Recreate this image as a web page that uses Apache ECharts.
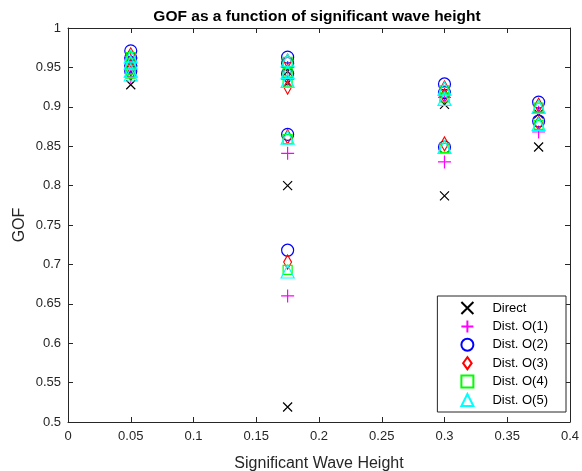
<!DOCTYPE html>
<html>
<head>
<meta charset="utf-8">
<script src="https://cdn.jsdelivr.net/npm/echarts@6/dist/echarts.min.js"></script>
<style>
  html, body { margin: 0; padding: 0; background: #fff; }
  #chart { width: 582px; height: 471px; }
</style>
</head>
<body>
<div id="chart"></div>
<script>
// Significant wave heights where the model was evaluated
const hsLevels = [0.05, 0.175, 0.3, 0.375];

// GOF values per method, one inner list per wave height
const direct = [[0.928, 0.945, 0.955], [0.930, 0.945, 0.800, 0.519], [0.903, 0.787], [0.891, 0.849]];
const dist1 = [[0.938, 0.952, 0.962], [0.935, 0.950, 0.841, 0.660], [0.912, 0.830], [0.893, 0.868]];
const dist2 = [[0.971, 0.962, 0.952, 0.945], [0.963, 0.955, 0.942, 0.865, 0.718], [0.929, 0.918, 0.849], [0.906, 0.882]];
const dist3 = [[0.966, 0.957, 0.948, 0.942], [0.958, 0.945, 0.925, 0.862, 0.703], [0.924, 0.914, 0.853], [0.902, 0.879]];
const dist4 = [[0.963, 0.955, 0.947, 0.942], [0.957, 0.943, 0.932, 0.859, 0.693], [0.921, 0.912, 0.848], [0.899, 0.877]];
const dist5 = [[0.964, 0.956, 0.946, 0.941], [0.959, 0.944, 0.933, 0.861, 0.691], [0.923, 0.910, 0.849], [0.900, 0.878]];

const seriesNames = ['Direct', 'Dist. O(1)', 'Dist. O(2)', 'Dist. O(3)', 'Dist. O(4)', 'Dist. O(5)'];

function toPoints(groups) {
  const pts = [];
  groups.forEach((vals, i) => vals.forEach(v => pts.push([hsLevels[i], v])));
  return pts;
}

const markers = [
  { data: direct, color: '#000000', symbol: 'path://M0,0L10,10M10,0L0,10', size: 9 },
  { data: dist1, color: '#ff00ff', symbol: 'path://M5,0L5,10M0,5L10,5', size: 13 },
  { data: dist2, color: '#0000ff', symbol: 'circle', size: 12 },
  { data: dist3, color: '#ff0000', symbol: 'path://M5,0L10,7L5,14L0,7Z', size: [11, 14] },
  { data: dist4, color: '#00ff00', symbol: 'rect', size: 9 },
  { data: dist5, color: '#00ffff', symbol: 'triangle', size: 13 }
];

const textColor = '#262626';
const font = 'Liberation Sans, Arial, sans-serif';

const axisCommon = {
  min: 0, max: 0.4, interval: 0.05,
  axisLine: { show: true, onZero: false, lineStyle: { color: textColor, width: 1 } },
  axisTick: { show: true, inside: true, length: 5, lineStyle: { color: textColor } },
  splitLine: { show: false }
};

const chart = echarts.init(document.getElementById('chart'));
chart.setOption({
  animation: false,
  backgroundColor: '#ffffff',
  title: {
    text: 'GOF as a function of significant wave height',
    left: 312, top: 4, textAlign: 'center',
    textStyle: { fontFamily: font, fontSize: 15.5, fontWeight: 'bold', color: '#000' }
  },
  grid: { left: 68, right: 12, top: 28, bottom: 49, outerBoundsMode: 'none', containLabel: false },
  legend: {
    orient: 'vertical',
    right: 16, bottom: 59,
    itemWidth: 12, itemHeight: 12, itemGap: 4.4,
    padding: [5, 18, 5, 23],
    borderColor: textColor, borderWidth: 1, backgroundColor: '#fff',
    textStyle: { fontFamily: font, fontSize: 13, color: '#000', padding: [0, 0, 0, 14] },
    data: seriesNames
  },
  xAxis: [
    Object.assign({}, axisCommon, {
      type: 'value', position: 'bottom',
      name: 'Significant Wave Height', nameLocation: 'middle', nameGap: 34,
      nameTextStyle: { fontFamily: font, fontSize: 16, color: textColor },
      axisLabel: {
        fontFamily: font, fontSize: 13, color: textColor, margin: 8,
        formatter: v => String(+v.toFixed(3))
      }
    }),
    Object.assign({}, axisCommon, { type: 'value', position: 'top', axisLabel: { show: false } })
  ],
  yAxis: [
    Object.assign({}, axisCommon, {
      type: 'value', min: 0.5, max: 1, interval: 0.05, position: 'left',
      name: 'GOF', nameLocation: 'middle', nameGap: 40, nameMoveOverlap: false,
      nameTextStyle: { fontFamily: font, fontSize: 16, color: textColor },
      axisLabel: {
        fontFamily: font, fontSize: 13, color: textColor, margin: 7,
        formatter: v => String(+v.toFixed(3))
      }
    }),
    Object.assign({}, axisCommon, {
      type: 'value', min: 0.5, max: 1, interval: 0.05, position: 'right',
      axisLabel: { show: false }
    })
  ],
  series: markers.map((m, i) => ({
    name: seriesNames[i],
    type: 'scatter',
    xAxisIndex: 0, yAxisIndex: 0,
    symbol: m.symbol,
    symbolSize: m.size,
    symbolKeepAspect: true,
    itemStyle: { color: 'rgba(0,0,0,0)', borderColor: m.color, borderWidth: 1.2, opacity: 1 },
    emphasis: { disabled: true },
    data: toPoints(m.data)
  }))
});
</script>
</body>
</html>
